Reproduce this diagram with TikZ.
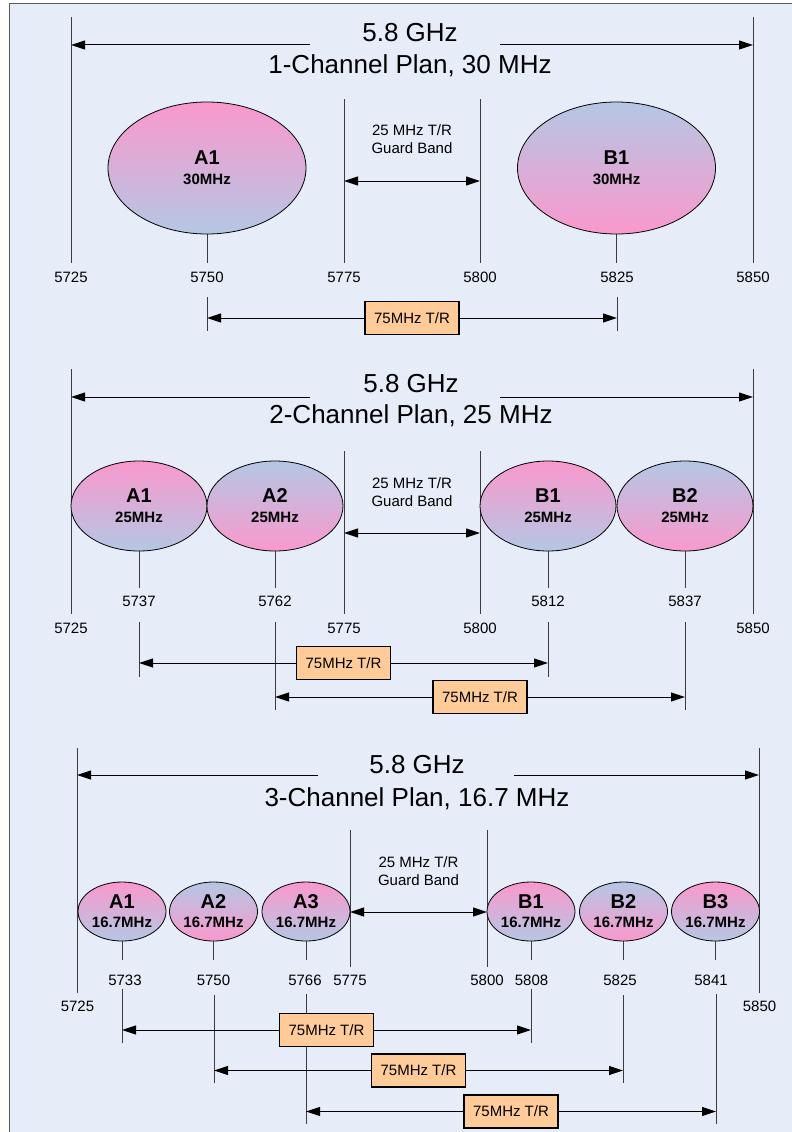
\documentclass[tikz,border=0pt]{standalone}
\usepackage{fontspec}
\setmainfont{Liberation Sans}
\usetikzlibrary{arrows.meta,shapes.geometric}
\definecolor{bgc}{RGB}{230,237,248}
\definecolor{pk}{RGB}{250,152,205}
\definecolor{bl}{RGB}{180,199,228}
\definecolor{orng}{RGB}{255,204,153}
\definecolor{lnc}{RGB}{60,60,60}
\pgfdeclarelayer{bglayer}
\pgfdeclarelayer{lnlayer}
\pgfsetlayers{bglayer,lnlayer,main}
\tikzset{
  vline/.style={draw=lnc, line width=1pt},
  arr/.style={draw=black, line width=1pt, -{Triangle[length=14pt,width=9pt]}},
  darr/.style={draw=black, line width=1pt, {Triangle[length=14pt,width=9pt]}-{Triangle[length=14pt,width=9pt]}},
  trbox/.style={draw=black, line width=1.8pt, fill=orng, minimum width=94pt, minimum height=33pt, inner sep=0pt, font=\fontsize{15pt}{18pt}\selectfont},
  num/.style={font=\fontsize{15pt}{18pt}\selectfont, inner sep=0pt},
  ttl/.style={font=\fontsize{26pt}{31pt}\selectfont, anchor=base, inner sep=0pt},
  guard/.style={font=\fontsize{15pt}{18pt}\selectfont, align=center, inner sep=0pt},
  ell/.style={ellipse, draw=black, line width=0.8pt, inner sep=0pt, align=center},
  ellA/.style={ell, top color=pk, bottom color=bl},
  ellB/.style={ell, top color=bl, bottom color=pk},
  eone/.style={minimum width=198pt, minimum height=132pt, font=\bfseries\fontsize{15pt}{20pt}\selectfont},
  etwo/.style={minimum width=136pt, minimum height=90pt, font=\bfseries\fontsize{15pt}{20pt}\selectfont},
  ethree/.style={minimum width=88pt, minimum height=59pt, font=\bfseries\fontsize{15pt}{19pt}\selectfont},
}
\newcommand\chlab[2]{{\fontsize{20pt}{20pt}\selectfont #1}\\#2}
\newcommand\trarrow[8]{%
  \coordinate (#1l) at (#2,#4); \coordinate (#1r) at (#3,#4);
  \coordinate (#1lt) at (#2,#5); \coordinate (#1lb) at (#2,#6);
  \coordinate (#1rt) at (#3,#7); \coordinate (#1rb) at (#3,#8);
  \begin{pgfonlayer}{lnlayer}
    \draw[vline] (#1lt) -- (#1lb);
    \draw[vline] (#1rt) -- (#1rb);
  \end{pgfonlayer}
  \node[trbox] (#1) at ({(#2+#3)/2},#4) {75MHz T/R};
  \draw[arr] (#1.west) -- (#1l);
  \draw[arr] (#1.east) -- (#1r);}
\newcommand\vln[5]{% name, x, ytop, ybot
  \coordinate (#1t) at (#2,#3); \coordinate (#1b) at (#2,#4);
  \begin{pgfonlayer}{lnlayer}\draw[vline] (#1t) -- (#1b);\end{pgfonlayer}}
\newcommand\etick[3]{% ellipse name, x, ybot
  \coordinate (#1t) at (#2,#3);
  \begin{pgfonlayer}{lnlayer}\draw[vline] (#1.south) -- (#1t);\end{pgfonlayer}}

\begin{document}
\begin{tikzpicture}[x=1pt,y=-1pt]
\useasboundingbox (0,0) rectangle (792,1132);
\begin{pgfonlayer}{bglayer}
  \clip (0,0) rectangle (792,1132);
  \fill[white] (0,0) rectangle (792,1132);
  \draw[fill=bgc, draw=black!65, line width=1pt] (9,4) rectangle (800,1140);
\end{pgfonlayer}

% ---------------- Section 1 ----------------
\vln{s1L}{71}{17}{263}{}
\vln{s1R}{753}{17}{263}{}
\vln{s1Ga}{344}{99}{263}{}
\vln{s1Gb}{480}{99}{263}{}
\node[ttl] (s1t1) at (410,42) {5.8 GHz};
\node[ttl] (s1t2) at (410,73.5) {1-Channel Plan, 30 MHz};
\coordinate (s1al) at (71,45); \coordinate (s1ar) at (753,45);
\coordinate (s1fl) at (310,45); \coordinate (s1fr) at (500,45);
\draw[arr] (s1fl) -- (s1al);
\draw[arr] (s1fr) -- (s1ar);
\node[guard] (s1g) at (412,139.5) {25 MHz T/R\\Guard Band};
\coordinate (s1ga) at (344,181); \coordinate (s1gb) at (480,181);
\draw[darr] (s1ga) -- (s1gb);
\node[ellA, eone] (s1A1) at (207,168) {\chlab{A1}{30MHz}};
\node[ellB, eone] (s1B1) at (616.5,168) {\chlab{B1}{30MHz}};
\etick{s1A1}{207}{263}
\etick{s1B1}{616.5}{263}
\foreach \x/\t in {71/5725,207/5750,344/5775,480/5800,617/5825,753/5850}
  \node[num] (s1n\t) at (\x,277) {\t};
\trarrow{s1box}{207}{617}{318}{297}{331}{297}{331}

% ---------------- Section 2 ----------------
\vln{s2L}{71}{369}{614}{}
\vln{s2R}{753}{369}{614}{}
\vln{s2Ga}{344}{451}{614}{}
\vln{s2Gb}{480}{451}{614}{}
\node[ttl] (s2t1) at (411,392) {5.8 GHz};
\node[ttl] (s2t2) at (411,423.5) {2-Channel Plan, 25 MHz};
\coordinate (s2al) at (71,397); \coordinate (s2ar) at (753,397);
\coordinate (s2fl) at (310,397); \coordinate (s2fr) at (500,397);
\draw[arr] (s2fl) -- (s2al);
\draw[arr] (s2fr) -- (s2ar);
\node[guard] (s2g) at (412,492) {25 MHz T/R\\Guard Band};
\coordinate (s2ga) at (344,533); \coordinate (s2gb) at (480,533);
\draw[darr] (s2ga) -- (s2gb);
\node[ellA, etwo] (s2A1) at (139,506) {\chlab{A1}{25MHz}};
\node[ellB, etwo] (s2A2) at (275,506) {\chlab{A2}{25MHz}};
\node[ellA, etwo] (s2B1) at (548,506) {\chlab{B1}{25MHz}};
\node[ellB, etwo] (s2B2) at (685,506) {\chlab{B2}{25MHz}};
\etick{s2A1}{139}{588}
\etick{s2A2}{275}{588}
\etick{s2B1}{548}{588}
\etick{s2B2}{685}{588}
\foreach \x/\t in {139/5737,275/5762,548/5812,685/5837}
  \node[num] (s2n\t) at (\x,601) {\t};
\foreach \x/\t in {71/5725,344/5775,480/5800,753/5850}
  \node[num] (s2n\t) at (\x,628) {\t};
\trarrow{s2boxa}{139}{548}{663}{622}{677}{622}{677}
\trarrow{s2boxb}{275}{685}{697}{622}{710}{622}{710}

% ---------------- Section 3 ----------------
\vln{s3L}{77}{748}{993}{}
\vln{s3R}{759}{748}{993}{}
\vln{s3Ga}{350}{830}{967}{}
\vln{s3Gb}{487}{830}{967}{}
\node[ttl] (s3t1) at (417,773) {5.8 GHz};
\node[ttl] (s3t2) at (417,806.5) {3-Channel Plan, 16.7 MHz};
\coordinate (s3al) at (77,775); \coordinate (s3ar) at (759,775);
\coordinate (s3fl) at (318,775); \coordinate (s3fr) at (514,775);
\draw[arr] (s3fl) -- (s3al);
\draw[arr] (s3fr) -- (s3ar);
\node[guard] (s3g) at (418.5,871) {25 MHz T/R\\Guard Band};
\coordinate (s3ga) at (350,912); \coordinate (s3gb) at (487,912);
\draw[darr] (s3ga) -- (s3gb);
\node[ellA, ethree] (s3A1) at (122,911.5) {\chlab{A1}{16.7MHz}};
\node[ellB, ethree] (s3A2) at (213.5,911.5) {\chlab{A2}{16.7MHz}};
\node[ellA, ethree] (s3A3) at (306,911.5) {\chlab{A3}{16.7MHz}};
\node[ellA, ethree] (s3B1) at (531,911.5) {\chlab{B1}{16.7MHz}};
\node[ellB, ethree] (s3B2) at (623.5,911.5) {\chlab{B2}{16.7MHz}};
\node[ellA, ethree] (s3B3) at (715.5,911.5) {\chlab{B3}{16.7MHz}};
\etick{s3A1}{122}{960}
\etick{s3A2}{213.5}{960}
\etick{s3A3}{306}{960}
\etick{s3B1}{531}{960}
\etick{s3B2}{623.5}{960}
\etick{s3B3}{715.5}{960}
\foreach \x/\t in {125/5733,213.5/5750,305/5766,350/5775,487/5800,531.5/5808,620/5825,711/5841}
  \node[num] (s3n\t) at (\x,980) {\t};
\foreach \x/\t in {77.5/5725,759.5/5850}
  \node[num] (s3n\t) at (\x,1006.5) {\t};
\trarrow{s3boxa}{122}{531}{1030}{989}{1043}{989}{1043}
\trarrow{s3boxb}{214}{623}{1070.5}{995}{1083}{995}{1083}
\trarrow{s3boxc}{306}{716}{1111.5}{994}{1124}{994}{1124}
\end{tikzpicture}
\end{document}
